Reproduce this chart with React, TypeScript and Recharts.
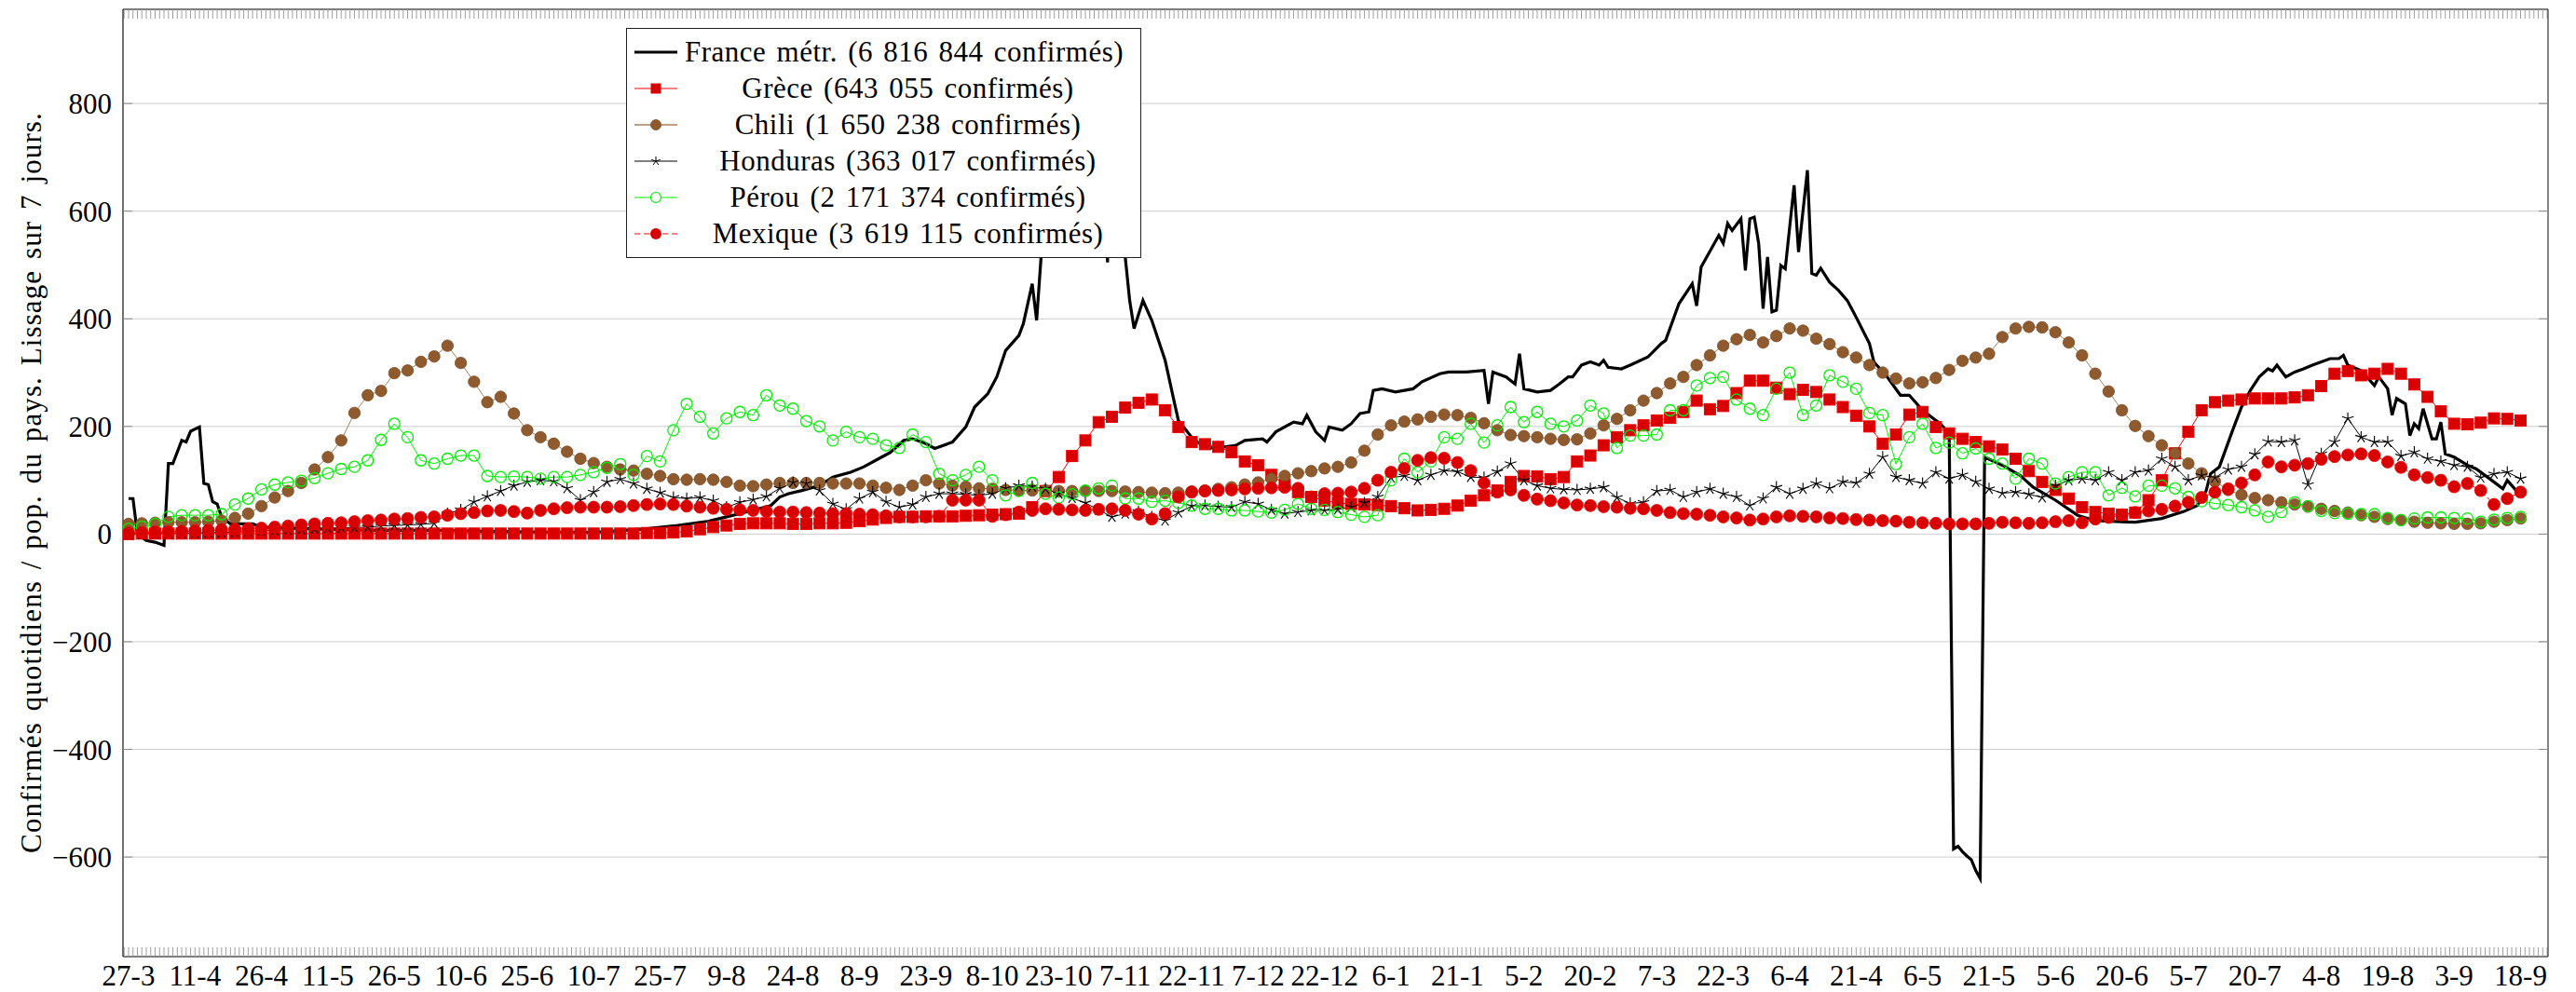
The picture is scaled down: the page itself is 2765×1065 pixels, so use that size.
import React from 'react'
import { LineChart, Line, XAxis, YAxis, CartesianGrid, Legend } from 'recharts'

const FONT = '"Liberation Serif", "Times New Roman", serif'

// x axis = days since 27-3, one label every 15 days
const tickLabels = [
    '27-3', '11-4', '26-4', '11-5', '26-5', '10-6', '25-6', '10-7', '25-7', '9-8', '24-8', '8-9',
    '23-9', '8-10', '23-10', '7-11', '22-11', '7-12', '22-12', '6-1', '21-1', '5-2', '20-2', '7-3',
    '22-3', '6-4', '21-4', '6-5', '21-5', '5-6', '20-6', '5-7', '20-7', '4-8', '19-8', '3-9', '18-9',
]
const tickDays = tickLabels.map((_, i) => i * 15)
const minorDays = Array.from({ length: 548 }, (_, i) => i - 1)
const yTicks = [-600, -400, -200, 0, 200, 400, 600, 800]
const xDomain = [-1.26, 546.2]
const yDomain = [-785, 975]

// marker series, read every 3 days (day 0, 3, ... 540)
const sampleDays = Array.from({ length: 181 }, (_, i) => i * 3)

const grece = [
    0, 1, 1, 1, 1, 1, 1, 1, 1, 1,
    1, 1, 1, 1, 1, 1, 1, 1, 1, 1,
    1, 1, 1, 1, 1, 1, 1, 1, 1, 1,
    1, 1, 1, 1, 1, 1, 1, 1, 1, 2,
    2, 3, 5, 9, 13, 16, 19, 20, 20, 20,
    19, 19, 20, 20, 21, 24, 27, 30, 32, 32,
    33, 33, 33, 34, 35, 36, 37, 38, 50, 80,
    106, 145, 174, 208, 218, 235, 244, 250, 230, 199,
    171, 167, 162, 152, 135, 128, 110, 92, 78, 69,
    62, 58, 56, 55, 54, 52, 48, 44, 45, 47,
    53, 62, 72, 81, 97, 108, 107, 102, 106, 135,
    146, 165, 180, 193, 202, 211, 216, 227, 248, 232,
    238, 262, 285, 285, 272, 260, 268, 264, 250, 236,
    220, 200, 168, 185, 222, 227, 199, 187, 177, 171,
    163, 157, 140, 117, 97, 82, 66, 50, 41, 38,
    36, 40, 63, 100, 150, 190, 230, 245, 248, 250,
    252, 252, 252, 254, 258, 275, 298, 303, 295, 298,
    307, 298, 278, 255, 228, 205, 204, 207, 215, 214,
    211,
]

const chili = [
    19, 20, 21, 22, 22, 22, 23, 25, 30, 38,
    52, 68, 80, 95, 120, 143, 174, 225, 258, 266,
    299, 304, 320, 330, 350, 318, 283, 245, 255, 224,
    193, 180, 168, 153, 140, 132, 125, 120, 118, 112,
    108, 102, 101, 102, 101, 97, 90, 89, 92, 95,
    95, 95, 95, 94, 94, 94, 90, 86, 82, 90,
    100, 94, 90, 88, 85, 84, 82, 81, 81, 81,
    80, 80, 80, 80, 80, 79, 78, 77, 76, 77,
    79, 81, 84, 87, 92, 96, 103, 108, 113, 117,
    122, 125, 133, 155, 185, 202, 209, 213, 218, 222,
    221, 216, 206, 193, 184, 182, 180, 177, 175, 176,
    187, 202, 214, 230, 248, 262, 280, 292, 314, 332,
    350, 362, 370, 356, 368, 382, 378, 363, 353, 338,
    328, 314, 300, 289, 280, 282, 290, 305, 322, 328,
    335, 366, 382, 385, 384, 375, 356, 332, 298, 265,
    230, 201, 182, 165, 150, 131, 113, 98, 82, 73,
    67, 63, 59, 55, 51, 47, 43, 40, 35, 32,
    28, 26, 23, 21, 20, 19, 19, 20, 23, 26,
    29,
]

const honduras = [
    0, 0, 1, 1, 2, 2, 3, 3, 4, 5,
    6, 7, 8, 9, 10, 11, 12, 12, 13, 15,
    16, 17, 18, 20, 38, 45, 60, 70, 80, 90,
    97, 100, 98, 85, 63, 78, 97, 102, 94, 84,
    77, 68, 66, 68, 62, 50, 59, 64, 70, 85,
    96, 94, 81, 56, 46, 66, 78, 60, 50, 55,
    69, 75, 75, 74, 72, 75, 85, 90, 88, 84,
    75, 67, 58, 45, 32, 38, 42, 32, 25, 40,
    52, 53, 51, 50, 60, 56, 45, 38, 41, 44,
    44, 46, 50, 58, 69, 105, 108, 100, 110, 118,
    116, 106, 105, 116, 131, 100, 90, 85, 83, 82,
    84, 87, 68, 57, 59, 80, 82, 69, 78, 84,
    75, 69, 53, 66, 87, 75, 84, 94, 85, 97,
    95, 112, 143, 106, 100, 94, 115, 103, 110, 97,
    84, 76, 78, 74, 68, 90, 100, 103, 100, 115,
    100, 115, 118, 140, 125, 100, 109, 105, 120, 125,
    148, 172, 171, 174, 92, 149, 171, 215, 180, 171,
    171, 145, 152, 140, 135, 128, 125, 105, 112, 115,
    103,
]

const perou = [
    10, 14, 19, 32, 35, 35, 35, 37, 55, 66,
    83, 92, 96, 99, 104, 113, 121, 125, 137, 175,
    205, 180, 137, 131, 140, 146, 146, 108, 106, 107,
    106, 103, 106, 106, 110, 115, 123, 130, 110, 145,
    135, 193, 242, 218, 187, 215, 227, 221, 258, 239,
    233, 210, 200, 174, 190, 180, 177, 165, 160, 185,
    171, 112, 100, 110, 125, 100, 72, 80, 95, 75,
    68, 74, 81, 85, 90, 66, 66, 60, 62, 58,
    53, 47, 47, 44, 44, 42, 40, 45, 56, 47,
    45, 41, 36, 32, 35, 100, 140, 115, 135, 180,
    177, 205, 170, 202, 236, 208, 227, 205, 200, 211,
    239, 224, 160, 183, 183, 185, 230, 230, 276, 290,
    292, 250, 233, 221, 270, 300, 221, 239, 295, 283,
    270, 225, 221, 130, 180, 205, 160, 170, 150, 159,
    140, 131, 103, 140, 131, 94, 106, 115, 115, 72,
    86, 70, 90, 90, 85, 69, 61, 57, 54, 50,
    44, 32, 41, 59, 52, 43, 39, 38, 37, 37,
    30, 26, 29, 31, 31, 30, 29, 23, 27, 30,
    32,
]

const mexique = [
    2, 3, 4, 4, 5, 6, 7, 8, 9, 10,
    11, 13, 15, 17, 19, 20, 21, 23, 25, 26,
    28, 29, 31, 32, 35, 38, 40, 43, 44, 42,
    39, 44, 47, 49, 50, 50, 50, 51, 53, 55,
    56, 55, 52, 50, 48, 46, 45, 44, 42, 41,
    41, 40, 39, 38, 38, 37, 36, 34, 32, 32,
    32, 33, 63, 63, 63, 33, 36, 41, 44, 47,
    46, 45, 44, 46, 47, 44, 37, 28, 38, 69,
    78, 80, 81, 82, 84, 85, 86, 87, 85, 69,
    75, 76, 78, 85, 100, 115, 122, 137, 142, 141,
    133, 118, 95, 78, 82, 72, 65, 62, 58, 54,
    53, 51, 50, 48, 47, 44, 40, 38, 37, 35,
    32, 30, 26, 28, 32, 34, 33, 32, 30, 29,
    27, 26, 25, 24, 22, 21, 20, 19, 19, 19,
    20, 22, 21, 20, 21, 23, 25, 21, 28, 31,
    36, 40, 43, 46, 52, 59, 68, 78, 84, 95,
    110, 134, 125, 128, 131, 139, 144, 147, 149, 146,
    134, 124, 110, 105, 100, 88, 94, 81, 55, 66,
    78,
]

// France has no markers, read at its turning points
const franceDays = [
    0, 1, 2, 4, 6, 8, 9, 10, 12, 13, 14, 16, 17, 18, 19, 20, 21, 23, 28, 30,
    41, 55, 69, 91, 105, 117, 124, 131, 135, 138, 145, 147, 149, 152, 156, 159, 163, 166, 170, 172,
    175, 177, 180, 182, 186, 189, 191, 194, 196, 198, 201, 202, 204, 205, 206, 208, 210, 212, 214, 216,
    218, 220, 221, 222, 224, 225, 226, 227, 229, 231, 234, 236, 237, 240, 243, 246, 250, 252, 256, 257,
    259, 263, 265, 266, 268, 270, 271, 274, 276, 278, 280, 281, 283, 286, 290, 292, 296, 298, 302, 306,
    307, 308, 311, 313, 314, 315, 318, 321, 323, 325, 326, 328, 330, 332, 333, 334, 337, 339, 343, 346,
    347, 350, 353, 354, 355, 359, 360, 361, 362, 364, 365, 366, 367, 368, 369, 370, 371, 372, 373, 374,
    376, 377, 379, 380, 381, 382, 384, 386, 388, 390, 393, 394, 397, 400, 402, 405, 409, 411, 412, 413,
    414, 415, 416, 417, 418, 419, 423, 427, 430, 435, 440, 444, 453, 459, 464, 467, 469, 470, 472, 475,
    477, 479, 481, 483, 484, 485, 487, 489, 491, 493, 494, 497, 499, 500, 501, 504, 507, 508, 510, 511,
    512, 514, 515, 516, 517, 518, 520, 521, 522, 523, 525, 528, 530, 533, 536, 537, 539,
]
const franceValues = [
    66, 66, 0, -12, -15, -21, 131, 131, 174, 171, 191, 199, 94, 92, 60, 56, 32, 19, 19, 13,
    10, 7, 7, 4, 3, 10, 16, 24, 32, 38, 53, 69, 75, 81, 90, 106, 115, 125, 143, 152,
    174, 177, 168, 159, 171, 199, 236, 261, 292, 341, 369, 391, 465, 397, 515, 580, 650, 720, 780, 820,
    830, 760, 505, 720, 640, 515, 434, 382, 434, 397, 323, 248, 211, 180, 160, 160, 165, 174, 177, 171,
    190, 208, 205, 221, 190, 174, 199, 193, 205, 224, 227, 267, 270, 264, 270, 283, 298, 301, 301, 304,
    242, 301, 292, 279, 335, 270, 264, 267, 279, 292, 292, 314, 320, 314, 323, 310, 307, 314, 329, 354,
    360, 428, 465, 424, 496, 555, 540, 577, 564, 586, 490, 586, 589, 540, 419, 515, 413, 416, 499, 493,
    648, 524, 676, 484, 481, 494, 468, 453, 434, 403, 354, 320, 292, 258, 258, 230, 205, 187, -585, -580,
    -590, -598, -605, -625, -640, 143, 128, 109, 87, 63, 35, 25, 22, 29, 42, 53, 80, 112, 125, 193,
    236, 267, 292, 307, 303, 314, 292, 301, 307, 314, 317, 326, 326, 332, 314, 304, 276, 292, 270, 221,
    252, 242, 183, 205, 196, 233, 177, 177, 208, 149, 143, 128, 121, 103, 84, 100, 81,
]

const rows = sampleDays.map((day, i) => ({
    day,
    grece: grece[i],
    chili: chili[i],
    honduras: honduras[i],
    perou: perou[i],
    mexique: mexique[i],
}))
const franceRows = franceDays.map((day, i) => ({ day, france: franceValues[i] }))

const RED = '#d80000'
const BROWN = '#8f5b2e'
const BROWN_LINE = '#a88260'
const GREEN = '#00f000'

const starPath = (cx: number, cy: number, r: number) => {
    let d = ''
    for (let k = 0; k < 5; k++) {
        const a = -Math.PI / 2 + (k * 2 * Math.PI) / 5
        d += `M${cx},${cy}L${cx + r * Math.cos(a)},${cy + r * Math.sin(a)}`
    }
    return d
}

const SquareMark = ({ cx, cy }: any) =>
    cx == null ? <g /> : <rect x={cx - 6} y={cy - 6} width={12} height={12} fill={RED} stroke="#ee0000" strokeWidth={1} />
const ChiliMark = ({ cx, cy }: any) =>
    cx == null ? <g /> : <circle cx={cx} cy={cy} r={6.2} fill={BROWN} stroke="#7c4b22" strokeWidth={0.8} />
const StarMark = ({ cx, cy }: any) =>
    cx == null ? <g /> : <path d={starPath(cx, cy, 6.5)} stroke="#000" strokeWidth={1.1} fill="none" />
const PerouMark = ({ cx, cy }: any) =>
    cx == null ? <g /> : <circle cx={cx} cy={cy} r={6} fill="none" stroke={GREEN} strokeWidth={1.3} />
const MexMark = ({ cx, cy }: any) =>
    cx == null ? <g /> : <circle cx={cx} cy={cy} r={6.5} fill={RED} stroke="#ee0000" strokeWidth={0.8} />

const legendItems = [
    { name: 'France métr. (6 816 844 confirmés)', key: 'france' },
    { name: 'Grèce (643 055 confirmés)', key: 'grece' },
    { name: 'Chili (1 650 238 confirmés)', key: 'chili' },
    { name: 'Honduras (363 017 confirmés)', key: 'honduras' },
    { name: 'Pérou (2 171 374 confirmés)', key: 'perou' },
    { name: 'Mexique (3 619 115 confirmés)', key: 'mexique' },
]

const LegendSymbol = ({ k }: { k: string }) => {
    const y = 10
    return (
        <svg width={46} height={20}>
            {k === 'france' && <line x1={0} y1={y} x2={46} y2={y} stroke="#000" strokeWidth={3} />}
            {k === 'grece' && (
                <>
                    <line x1={0} y1={y} x2={46} y2={y} stroke="#ff0000" strokeWidth={1} />
                    <rect x={17.5} y={y - 5.5} width={11} height={11} fill={RED} />
                </>
            )}
            {k === 'chili' && (
                <>
                    <line x1={0} y1={y} x2={46} y2={y} stroke={BROWN_LINE} strokeWidth={1.5} />
                    <circle cx={23} cy={y} r={5.5} fill={BROWN} stroke="#7c4b22" strokeWidth={0.8} />
                </>
            )}
            {k === 'honduras' && (
                <>
                    <line x1={0} y1={y} x2={46} y2={y} stroke="#000" strokeWidth={1} />
                    <path d={starPath(23, y, 5)} stroke="#000" strokeWidth={1} />
                </>
            )}
            {k === 'perou' && (
                <>
                    <line x1={0} y1={y} x2={46} y2={y} stroke={GREEN} strokeWidth={1} />
                    <circle cx={23} cy={y} r={5.5} fill="#fff" stroke={GREEN} strokeWidth={1.2} />
                </>
            )}
            {k === 'mexique' && (
                <>
                    <line x1={0} y1={y} x2={46} y2={y} stroke="#ff0000" strokeWidth={1} strokeDasharray="6 4" />
                    <circle cx={23} cy={y} r={6} fill={RED} />
                </>
            )}
        </svg>
    )
}

const renderLegend = () => (
    <div
        style={{
            width: 553,
            height: 247,
            boxSizing: 'border-box',
            background: '#fff',
            border: '1.5px solid #222',
            paddingTop: 5,
            fontFamily: FONT,
            fontSize: 31,
            letterSpacing: 0.5,
            wordSpacing: 3,
            color: '#000',
        }}
    >
        {legendItems.map((it, i) => (
            <div key={it.key} style={{ display: 'flex', alignItems: 'center', height: 39, paddingLeft: 8 }}>
                <LegendSymbol k={it.key} />
                <div style={{ flex: 1, marginLeft: 8, paddingRight: 10, textAlign: i === 0 ? 'left' : 'center', whiteSpace: 'nowrap', lineHeight: '39px' }}>
                    {it.name}
                </div>
            </div>
        ))}
    </div>
)

const YLabel = () => (
    <text
        x={44}
        y={518}
        transform="rotate(-90 44 518)"
        textAnchor="middle"
        fontFamily={FONT}
        fontSize={31}
        letterSpacing={1.1}
        wordSpacing={3}
        fill="#000"
    >
        Confirmés quotidiens / pop. du pays. Lissage sur 7 jours.
    </text>
)

const fmtY = (v: number) => (v < 0 ? `\u2212${Math.abs(v)}` : String(v))

export default function App() {
    return (
        <div style={{ position: 'absolute', left: 0, top: 0, width: 2765, height: 1065, background: '#fff' }}>
            <LineChart width={2765} height={1065} data={rows} margin={{ top: 10, right: 30, bottom: 0, left: 0 }}>
                <CartesianGrid vertical={false} stroke="#cccccc" strokeWidth={1} />
                <XAxis
                    dataKey="day"
                    type="number"
                    domain={xDomain}
                    allowDataOverflow
                    ticks={tickDays}
                    interval={0}
                    tickFormatter={(v: number) => tickLabels[tickDays.indexOf(v)] ?? ''}
                    tickLine={false}
                    tickSize={0}
                    tickMargin={9}
                    height={38}
                    axisLine={{ stroke: '#111', strokeWidth: 1.2 }}
                    tick={{ fontFamily: FONT, fontSize: 31, fill: '#000' }}
                />
                <XAxis
                    xAxisId="minorBottom"
                    dataKey="day"
                    type="number"
                    domain={xDomain}
                    allowDataOverflow
                    ticks={minorDays}
                    interval={0}
                    mirror
                    orientation="bottom"
                    tickSize={10}
                    tickLine={{ stroke: '#a0a0a0', strokeWidth: 1 }}
                    axisLine={false}
                    tickFormatter={() => ''}
                    height={1}
                />
                <XAxis
                    xAxisId="minorTop"
                    dataKey="day"
                    type="number"
                    domain={xDomain}
                    allowDataOverflow
                    ticks={minorDays}
                    interval={0}
                    mirror
                    orientation="top"
                    tickSize={10}
                    tickLine={{ stroke: '#a0a0a0', strokeWidth: 1 }}
                    axisLine={{ stroke: '#111', strokeWidth: 1.2 }}
                    tickFormatter={() => ''}
                    height={1}
                />
                <YAxis
                    type="number"
                    domain={yDomain}
                    allowDataOverflow
                    ticks={yTicks}
                    interval={0}
                    width={132}
                    tickLine={false}
                    tickSize={0}
                    tickMargin={12}
                    tickFormatter={fmtY}
                    axisLine={{ stroke: '#111', strokeWidth: 1.2 }}
                    tick={{ fontFamily: FONT, fontSize: 31, fill: '#000' }}
                    label={<YLabel />}
                />
                <YAxis
                    yAxisId="tickLeft"
                    type="number"
                    domain={yDomain}
                    allowDataOverflow
                    ticks={yTicks}
                    interval={0}
                    mirror
                    orientation="left"
                    width={1}
                    tickSize={10}
                    tickLine={{ stroke: '#888', strokeWidth: 1 }}
                    axisLine={false}
                    tickFormatter={() => ''}
                />
                <YAxis
                    yAxisId="tickRight"
                    type="number"
                    domain={yDomain}
                    allowDataOverflow
                    ticks={yTicks}
                    interval={0}
                    mirror
                    orientation="right"
                    width={1}
                    tickSize={10}
                    tickLine={{ stroke: '#888', strokeWidth: 1 }}
                    axisLine={{ stroke: '#333', strokeWidth: 1.2 }}
                    tickFormatter={() => ''}
                />
                <Legend
                    layout="vertical"
                    align="center"
                    verticalAlign="middle"
                    content={renderLegend}
                    wrapperStyle={{ left: 672, top: 30, width: 553, height: 247 }}
                />
                <Line data={franceRows} dataKey="france" stroke="#000" strokeWidth={3.2} dot={false} isAnimationActive={false} />
                <Line dataKey="grece" stroke="#ff0000" strokeWidth={1} dot={<SquareMark />} isAnimationActive={false} />
                <Line dataKey="chili" stroke={BROWN_LINE} strokeWidth={1} dot={<ChiliMark />} isAnimationActive={false} />
                <Line dataKey="honduras" stroke="#000" strokeWidth={1} dot={<StarMark />} isAnimationActive={false} />
                <Line dataKey="perou" stroke={GREEN} strokeWidth={1} dot={<PerouMark />} isAnimationActive={false} />
                <Line dataKey="mexique" stroke="#ff0000" strokeWidth={1} strokeDasharray="6 4" dot={<MexMark />} isAnimationActive={false} />
            </LineChart>
        </div>
    )
}
